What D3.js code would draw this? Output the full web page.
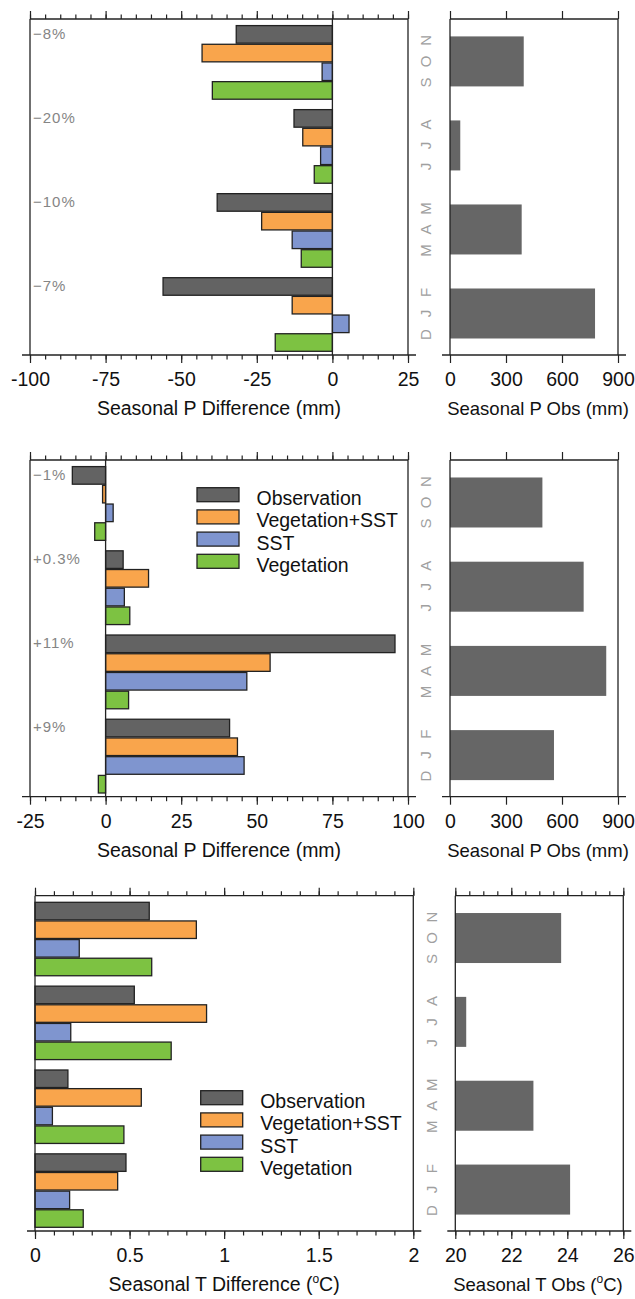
<!DOCTYPE html>
<html>
<head>
<meta charset="utf-8">
<script src="https://cdn.jsdelivr.net/npm/d3@7"></script>
<style>
  body { margin: 0; background: #fff; }
  svg { display: block; font-family: "Liberation Sans", Arial, Helvetica, sans-serif; }
</style>
</head>
<body>
<svg id="chart" width="635" height="1299"></svg>
<script>
// seasons listed top to bottom
const seasons = ['SON', 'JJA', 'MAM', 'DJF'];
const seriesNames = ['Observation', 'Vegetation+SST', 'SST', 'Vegetation'];
const seriesColors = ['#636363', '#f9a54c', '#7f95cf', '#7dc242'];

// top row: precipitation difference (mm)
const pDiffTopObs = [-31.8, -12.7, -38.1, -56.0];
const pDiffTopVegSst = [-43.1, -9.8, -23.4, -13.3];
const pDiffTopSst = [-3.4, -3.9, -13.3, 5.5];
const pDiffTopVeg = [-39.7, -6.0, -10.3, -18.9];
const pPctTop = ['\u22128%', '\u221220%', '\u221210%', '\u22127%'];
const pObsTop = [395, 55, 384, 777];

// middle row
const pDiffMidObs = [-11.0, 5.8, 95.7, 41.0];
const pDiffMidVegSst = [-1.0, 14.2, 54.4, 43.6];
const pDiffMidSst = [2.5, 6.2, 46.7, 45.8];
const pDiffMidVeg = [-3.6, 8.0, 7.6, -2.4];
const pPctMid = ['\u22121%', '+0.3%', '+11%', '+9%'];
const pObsMid = [495, 716, 837, 557];

// bottom row: temperature difference (oC)
const tDiffObs = [0.604, 0.525, 0.174, 0.481];
const tDiffVegSst = [0.853, 0.907, 0.562, 0.437];
const tDiffSst = [0.234, 0.189, 0.092, 0.183];
const tDiffVeg = [0.617, 0.72, 0.47, 0.255];
const tObs = [23.78, 20.39, 22.79, 24.1];

const pDiffTopTicks = [-100, -75, -50, -25, 0, 25];
const pDiffMidTicks = [-25, 0, 25, 50, 75, 100];
const tDiffTicks = [0, 0.5, 1, 1.5, 2];
const pObsTicks = [0, 300, 600, 900];
const tObsTicks = [20, 22, 24, 26];

const svg = d3.select('#chart');
const ink = '#222';
const fmt = d => String(d);

function styleAxis(g) {
  g.select('.domain').remove();
  g.attr('font-family', null).attr('font-size', 19.5);
  g.selectAll('.tick line').attr('stroke', ink).attr('stroke-width', 1.2);
  g.selectAll('.tick text').attr('fill', '#111');
}

function frame(x, y0, y1, major, minor) {
  const [a, b] = x.range();
  const g = svg.append('g');
  if (minor) {
    g.append('g').attr('transform', `translate(0,${y0})`)
      .call(d3.axisTop(x).tickValues(minor).tickSize(4.5).tickFormat(''))
      .call(styleAxis);
    g.append('g').attr('transform', `translate(0,${y1})`)
      .call(d3.axisBottom(x).tickValues(minor).tickSize(4.5).tickFormat(''))
      .call(styleAxis);
  }
  g.append('g').attr('transform', `translate(0,${y0})`)
    .call(d3.axisTop(x).tickValues(major).tickSize(8).tickFormat(''))
    .call(styleAxis);
  g.append('g').attr('transform', `translate(0,${y1})`)
    .call(d3.axisBottom(x).tickValues(major).tickSize(8).tickPadding(9.5).tickFormat(fmt))
    .call(styleAxis);
  const line = (x1, y1_, x2, y2) => g.append('line')
    .attr('x1', x1).attr('y1', y1_).attr('x2', x2).attr('y2', y2)
    .attr('stroke', ink).attr('stroke-width', 1.3);
  line(a, y0, b, y0);
  line(a, y0, a, y1);
  line(b, y0, b, y1);
  line(a - 8, y1, b + 8, y1);
}

function title(x, y, parts, size) {
  const t = svg.append('text')
    .attr('x', x).attr('y', y)
    .attr('text-anchor', 'middle')
    .attr('font-size', size).attr('fill', '#111');
  t.append('tspan').text(parts[0]);
  if (parts.length > 1) {
    t.append('tspan').attr('font-size', 12).attr('dy', -8).text('o');
    t.append('tspan').attr('font-size', size).attr('dy', 8).text(parts[1]);
  }
}

function groupScale(y0, y1) {
  return d3.scaleBand().domain(seasons).range([y0 + 6.6, y1 - 3.7]).paddingInner(0.124);
}

function diffPanel(c) {
  const x = d3.scaleLinear().domain(c.domain).range([c.x0, c.x1]);
  const yG = groupScale(c.y0, c.y1);
  const yS = d3.scaleBand().domain(seriesNames).range([0, yG.bandwidth()]).paddingInner(0.06);

  const cells = [];
  seasons.forEach((s, i) => seriesNames.forEach((n, j) => {
    cells.push({ season: s, name: n, value: c.values[j][i], color: seriesColors[j] });
  }));

  svg.append('g').selectAll('rect')
    .data(cells)
    .join('rect')
    .attr('x', d => x(Math.min(0, d.value)))
    .attr('y', d => yG(d.season) + yS(d.name))
    .attr('width', d => Math.abs(x(d.value) - x(0)))
    .attr('height', yS.bandwidth())
    .attr('fill', d => d.color)
    .attr('stroke', ink)
    .attr('stroke-width', 1.3);

  if (c.domain[0] < 0) {
    svg.append('line')
      .attr('x1', x(0)).attr('x2', x(0))
      .attr('y1', c.y0).attr('y2', c.y1)
      .attr('stroke', ink).attr('stroke-width', 1.3);
  }

  if (c.pct) {
    svg.append('g').selectAll('text')
      .data(c.pct)
      .join('text')
      .attr('x', c.x0 + 3)
      .attr('y', (d, i) => yG(seasons[i]) + 13)
      .attr('font-size', 15)
      .attr('letter-spacing', 1)
      .attr('fill', '#858585')
      .text(d => d);
  }

  frame(x, c.y0, c.y1, c.major, c.minor);
  title((c.x0 + c.x1) / 2, c.y1 + 60, c.title, 19.5);

  if (c.legend) {
    const lg = svg.append('g').selectAll('g')
      .data(seriesNames)
      .join('g')
      .attr('transform', (d, i) => `translate(${c.legend[0]},${c.legend[1] + i * 22.2})`);
    lg.append('rect')
      .attr('width', 42).attr('height', 14)
      .attr('fill', (d, i) => seriesColors[i])
      .attr('stroke', ink).attr('stroke-width', 1.3);
    lg.append('text')
      .attr('x', 59.5).attr('y', 17.4)
      .attr('font-size', 19.5).attr('fill', '#111')
      .text(d => d);
  }
}

function obsPanel(c) {
  const x = d3.scaleLinear().domain(c.domain).range([c.x0, c.x1]);
  const yG = groupScale(c.y0, c.y1);
  const barH = 50;

  svg.append('g').selectAll('rect')
    .data(c.values)
    .join('rect')
    .attr('x', x(c.domain[0]))
    .attr('y', (d, i) => yG(seasons[i]) + yG.bandwidth() / 2 - barH / 2 - 1)
    .attr('width', d => x(d) - x(c.domain[0]))
    .attr('height', barH)
    .attr('fill', '#666');

  // season letters, rotated, reading bottom to top
  const letters = [];
  seasons.forEach(s => s.split('').forEach((ch, k) => {
    letters.push({ ch, y: yG(s) + yG.bandwidth() / 2 - 1 + (1 - k) * 21 });
  }));
  svg.append('g').selectAll('text')
    .data(letters)
    .join('text')
    .attr('transform', d => `translate(${c.seasonX},${d.y}) rotate(-90)`)
    .attr('text-anchor', 'middle')
    .attr('dominant-baseline', 'central')
    .attr('font-size', 15)
    .attr('fill', '#a0a0a0')
    .text(d => d.ch);

  frame(x, c.y0, c.y1, c.major, c.minor);
  title(c.titleX, c.y1 + 60, c.title, 18.5);
}

// top row
diffPanel({
  x0: 30, x1: 408, y0: 19, y1: 355, domain: [-100, 25],
  major: pDiffTopTicks, minor: d3.range(-100, 26, 5),
  values: [pDiffTopObs, pDiffTopVegSst, pDiffTopSst, pDiffTopVeg],
  pct: pPctTop, title: ['Seasonal P Difference (mm)']
});
obsPanel({
  x0: 450, x1: 618, y0: 19, y1: 355, domain: [0, 900],
  major: pObsTicks, minor: null, values: pObsTop,
  seasonX: 425.5, titleX: 538, title: ['Seasonal P Obs (mm)']
});

// middle row
diffPanel({
  x0: 30, x1: 408, y0: 460, y1: 796.7, domain: [-25, 100],
  major: pDiffMidTicks, minor: d3.range(-25, 101, 5),
  values: [pDiffMidObs, pDiffMidVegSst, pDiffMidSst, pDiffMidVeg],
  pct: pPctMid, legend: [197, 487.7], title: ['Seasonal P Difference (mm)']
});
obsPanel({
  x0: 450, x1: 618, y0: 460, y1: 796.7, domain: [0, 900],
  major: pObsTicks, minor: null, values: pObsMid,
  seasonX: 425.5, titleX: 538, title: ['Seasonal P Obs (mm)']
});

// bottom row
diffPanel({
  x0: 35, x1: 413.3, y0: 895.7, y1: 1231, domain: [0, 2],
  major: tDiffTicks, minor: d3.range(0, 2.01, 0.1).map(d => +d.toFixed(1)),
  values: [tDiffObs, tDiffVegSst, tDiffSst, tDiffVeg],
  pct: null, legend: [200.7, 1090.7], title: ['Seasonal T Difference (', 'C)']
});
obsPanel({
  x0: 455.3, x1: 623.3, y0: 895.7, y1: 1231, domain: [20, 26],
  major: tObsTicks, minor: d3.range(20, 26.01, 0.5), values: tObs,
  seasonX: 431.5, titleX: 538, title: ['Seasonal T Obs (', 'C)']
});
</script>
</body>
</html>
